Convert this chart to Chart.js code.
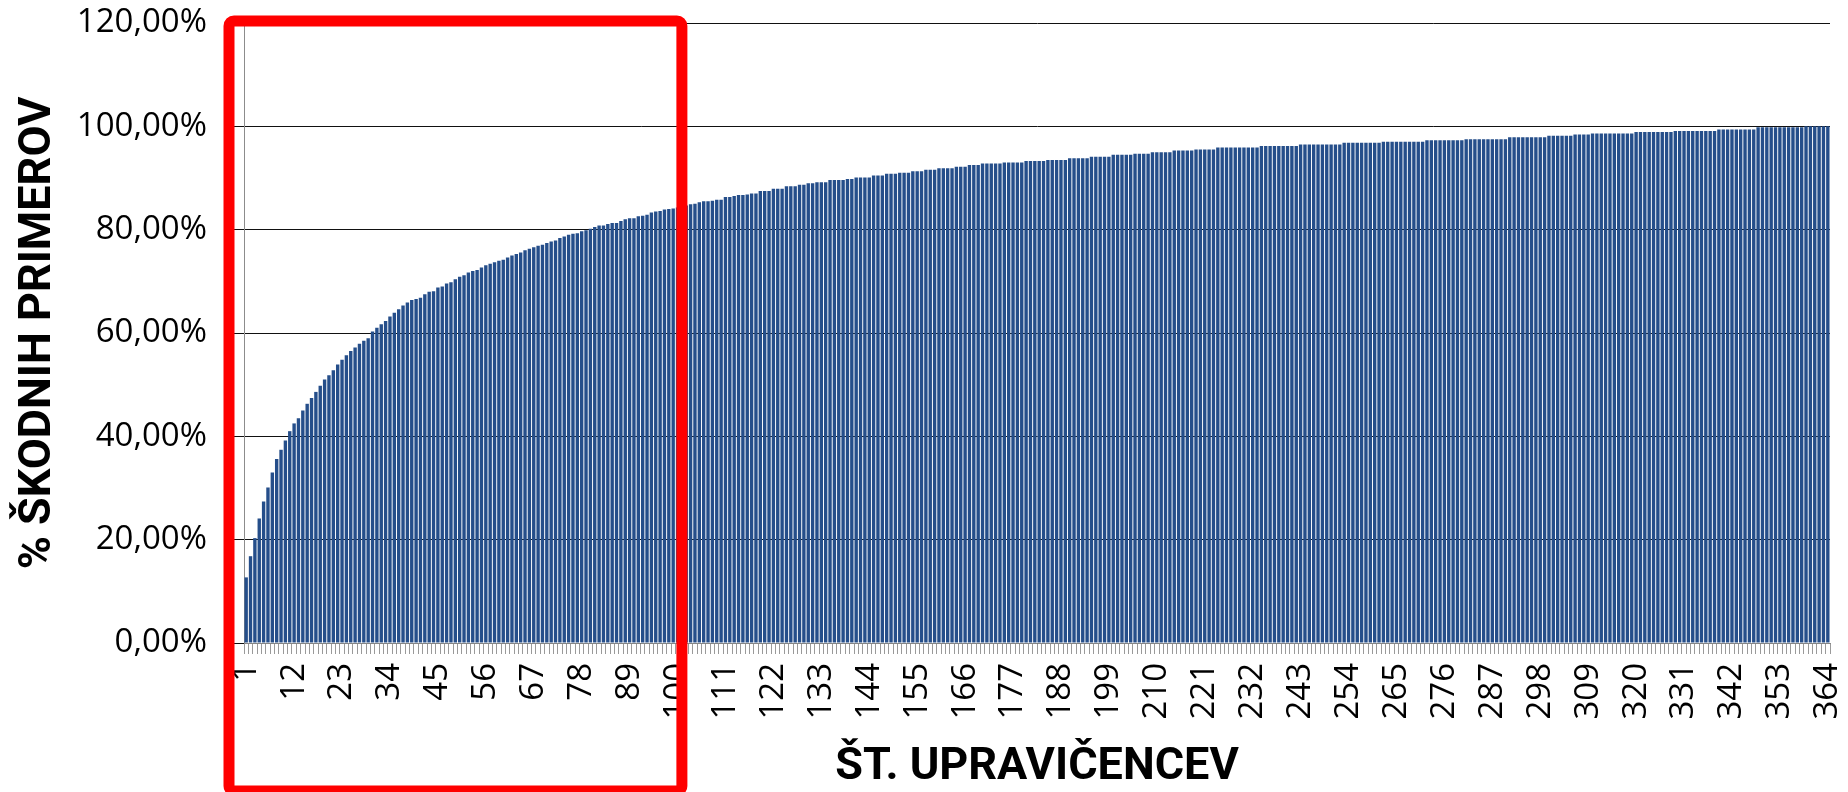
<!DOCTYPE html>
<html>
<head>
<meta charset="utf-8">
<script src="https://cdn.jsdelivr.net/npm/chart.js@4"></script>
<style>
  body { margin: 0; background: #fff; }
</style>
</head>
<body>
<canvas id="myChart" width="1848" height="792"></canvas>
<script>
// delez skodnih primerov (kumulativno, v %) po stevilu upravicencev
const delez = [
  12.7, 16.8, 20.3, 24.1, 27.4, 30.1, 33.0, 35.6, 37.4, 39.2,
  41.0, 42.5, 43.5, 45.0, 46.3, 47.4, 48.6, 49.8, 51.0, 51.8,
  52.8, 53.9, 54.8, 55.7, 56.5, 57.2, 57.9, 58.5, 59.0, 60.3,
  61.0, 61.7, 62.3, 63.2, 63.9, 64.6, 65.3, 65.9, 66.4, 66.6,
  66.8, 67.5, 68.0, 68.1, 68.8, 69.0, 69.6, 69.8, 70.4, 70.9,
  71.2, 71.7, 72.0, 72.2, 72.7, 73.1, 73.4, 73.7, 74.0, 74.2,
  74.6, 75.0, 75.3, 75.6, 76.0, 76.3, 76.6, 76.9, 77.1, 77.4,
  77.7, 77.9, 78.4, 78.7, 79.0, 79.2, 79.3, 79.7, 79.9, 80.2,
  80.5, 80.8, 80.8, 81.1, 81.3, 81.3, 81.7, 82.0, 82.2, 82.2,
  82.6, 82.7, 82.9, 83.3, 83.5, 83.6, 83.9, 84.0, 84.1, 84.3,
  84.5, 84.7, 84.9, 85.0, 85.3, 85.5, 85.5, 85.6, 85.8, 85.8,
  86.3, 86.3, 86.5, 86.7, 86.7, 86.8, 87.0, 87.0, 87.5, 87.5,
  87.5, 87.9, 87.9, 87.9, 88.4, 88.4, 88.4, 88.7, 88.7, 89.0,
  89.0, 89.2, 89.2, 89.2, 89.6, 89.6, 89.6, 89.6, 89.8, 89.8,
  90.1, 90.1, 90.1, 90.1, 90.5, 90.5, 90.5, 90.8, 90.8, 90.8,
  91.0, 91.0, 91.0, 91.3, 91.3, 91.3, 91.6, 91.6, 91.6, 91.9,
  91.9, 91.9, 91.9, 92.2, 92.2, 92.2, 92.5, 92.5, 92.5, 92.8,
  92.8, 92.8, 92.8, 92.8, 93.0, 93.0, 93.0, 93.0, 93.0, 93.3,
  93.3, 93.3, 93.3, 93.3, 93.5, 93.5, 93.5, 93.5, 93.5, 93.8,
  93.8, 93.8, 93.8, 93.8, 94.1, 94.1, 94.1, 94.1, 94.1, 94.5,
  94.5, 94.5, 94.5, 94.5, 94.7, 94.7, 94.7, 94.7, 95.0, 95.0,
  95.0, 95.0, 95.0, 95.3, 95.3, 95.3, 95.3, 95.3, 95.5, 95.5,
  95.5, 95.5, 95.5, 95.9, 95.9, 95.9, 95.9, 95.9, 95.9, 95.9,
  95.9, 95.9, 95.9, 96.2, 96.2, 96.2, 96.2, 96.2, 96.2, 96.2,
  96.2, 96.2, 96.5, 96.5, 96.5, 96.5, 96.5, 96.5, 96.5, 96.5,
  96.5, 96.5, 96.8, 96.8, 96.8, 96.8, 96.8, 96.8, 96.8, 96.8,
  96.8, 97.0, 97.0, 97.0, 97.0, 97.0, 97.0, 97.0, 97.0, 97.0,
  97.0, 97.3, 97.3, 97.3, 97.3, 97.3, 97.3, 97.3, 97.3, 97.3,
  97.5, 97.5, 97.5, 97.5, 97.5, 97.5, 97.5, 97.5, 97.5, 97.5,
  97.9, 97.9, 97.9, 97.9, 97.9, 97.9, 97.9, 97.9, 97.9, 98.2,
  98.2, 98.2, 98.2, 98.2, 98.2, 98.4, 98.4, 98.4, 98.4, 98.6,
  98.6, 98.6, 98.6, 98.6, 98.6, 98.6, 98.6, 98.6, 98.6, 98.9,
  98.9, 98.9, 98.9, 98.9, 98.9, 98.9, 98.9, 98.9, 99.1, 99.1,
  99.1, 99.1, 99.1, 99.1, 99.1, 99.1, 99.1, 99.1, 99.4, 99.4,
  99.4, 99.4, 99.4, 99.4, 99.4, 99.4, 99.4, 99.8, 99.8, 99.8,
  99.8, 99.8, 99.8, 99.8, 99.8, 99.8, 99.8, 99.8, 100, 100,
  100, 100, 100, 100
];

// upravicenci 1..364
const upravicenci = [];
for (let i = 1; i <= delez.length; i++) {
    upravicenci.push(String(i));
}

// oznake, ki se izpisejo na osi x
const oznakeX = ['1', '12', '23', '34', '45', '56', '67', '78', '89', '100',
  '111', '122', '133', '144', '155', '166', '177', '188', '199', '210',
  '221', '232', '243', '254', '265', '276', '287', '298', '309', '320',
  '331', '342', '353', '364'];

const oznakeY = [0, 20, 40, 60, 80, 100, 120];

// rdec okvir okoli prvih 100 upravicencev
const okvir = {
    id: 'okvir',
    afterDraw(chart) {
        const ctx = chart.ctx;
        const area = chart.chartArea;
        const x = chart.scales.x;
        const levo = area.left - 15;
        const desno = x.getPixelForValue(100);
        const zgoraj = area.top - 2;
        const spodaj = chart.height - 1;
        ctx.save();
        ctx.strokeStyle = '#ff0000';
        ctx.lineWidth = 11;
        ctx.lineJoin = 'round';
        ctx.beginPath();
        ctx.roundRect(levo, zgoraj, desno - levo, spodaj - zgoraj, 5);
        ctx.stroke();
        ctx.restore();
    }
};

function makeChart() {
    const ctx = document.getElementById('myChart');

    new Chart(ctx, {
        type: 'bar',
        data: {
            labels: upravicenci,
            datasets: [{
                data: delez,
                backgroundColor: '#254E8A',
                barPercentage: 0.78,
                categoryPercentage: 1
            }]
        },
        options: {
            responsive: false,
            animation: false,
            layout: { padding: { top: 23, right: 18, left: 0, bottom: 0 } },
            plugins: {
                legend: { display: false },
                tooltip: { enabled: false }
            },
            scales: {
                x: {
                    afterFit: (s) => {
                        s.height = 149;
                        s.paddingLeft = 0;
                        s.paddingRight = 0;
                    },
                    grid: {
                        drawOnChartArea: false,
                        drawTicks: true,
                        tickLength: 11,
                        color: '#9a9a9a'
                    },
                    border: { color: '#868686' },
                    ticks: {
                        autoSkip: false,
                        minRotation: 90,
                        maxRotation: 90,
                        padding: 9,
                        color: '#000',
                        font: { family: 'Open Sans', size: 33 },
                        callback: function (v, i) {
                            const l = upravicenci[i];
                            return oznakeX.includes(l) ? l : '';
                        }
                    },
                    title: {
                        display: true,
                        text: 'ŠT. UPRAVIČENCEV',
                        color: '#000',
                        font: { family: 'Roboto', size: 45, weight: 'bold', lineHeight: 1 },
                        padding: { top: 0, bottom: 2 }
                    }
                },
                y: {
                    min: 0,
                    max: 120,
                    afterFit: (s) => {
                        s.width = 244;
                        s.paddingTop = 0;
                        s.paddingBottom = 0;
                    },
                    afterBuildTicks: (s) => { s.ticks = oznakeY.map(v => ({ value: v })); },
                    grid: {
                        color: '#111',
                        tickLength: 10
                    },
                    border: { color: '#8c8c8c' },
                    ticks: {
                        padding: 27,
                        color: '#000',
                        font: { family: 'Open Sans', size: 33 },
                        callback: (v) => v.toFixed(2).replace('.', ',') + '%'
                    },
                    title: {
                        display: true,
                        text: '% ŠKODNIH PRIMEROV',
                        color: '#000',
                        font: { family: 'Roboto', size: 45, weight: 'bold', lineHeight: 1 },
                        padding: { top: 16, bottom: 0 }
                    }
                }
            }
        },
        plugins: [okvir]
    });
}

makeChart();
</script>
</body>
</html>
